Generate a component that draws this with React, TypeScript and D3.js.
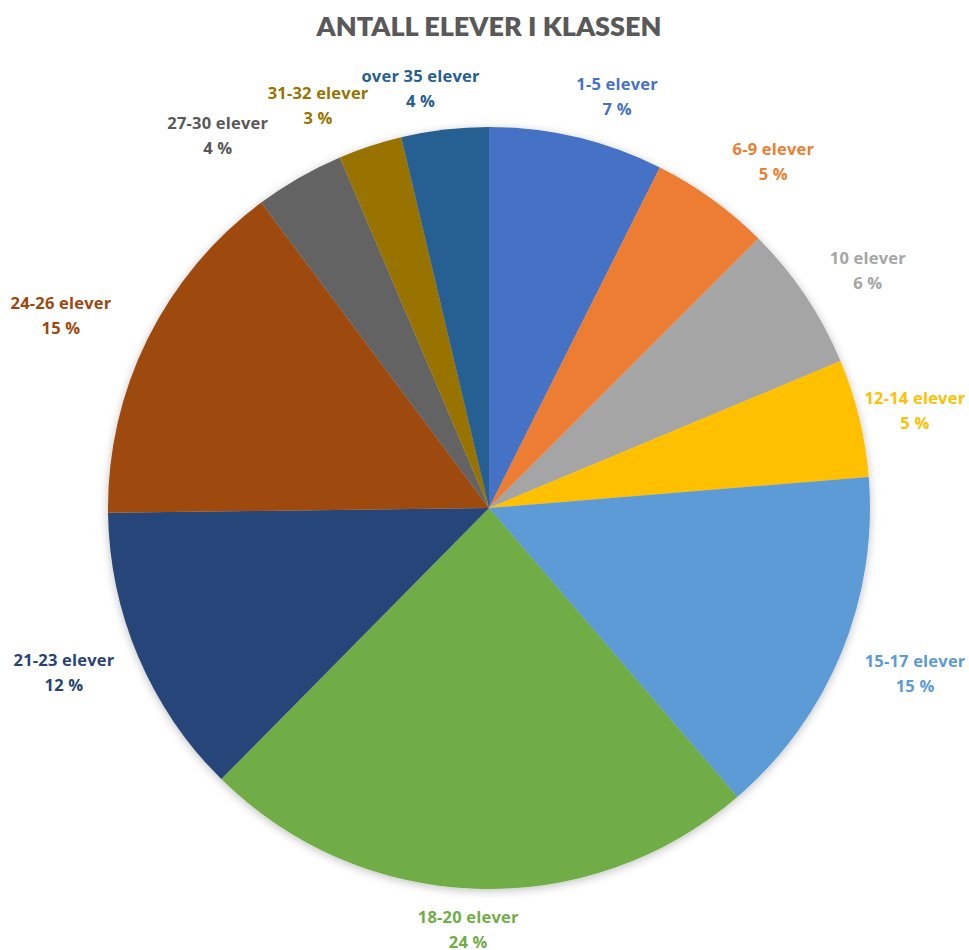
import React from "react";
import * as d3 from "d3";

const categories = [
  "1-5 elever", "6-9 elever", "10 elever", "12-14 elever", "15-17 elever",
  "18-20 elever", "21-23 elever", "24-26 elever", "27-30 elever", "31-32 elever", "over 35 elever",
];
const values = [7.4, 5.1, 6.2, 5.0, 15.0, 23.7, 12.4, 15.0, 3.8, 2.7, 3.7];
const colors = [
  "#4472C4", "#ED7D31", "#A5A5A5", "#FFC000", "#5B9BD5",
  "#70AD47", "#264478", "#9E480E", "#636363", "#997300", "#255E91",
];
const labelColors = [
  "#4472C4", "#ED7D31", "#A5A5A5", "#FFC000", "#5B9BD5",
  "#70AD47", "#264478", "#9E480E", "#595959", "#997300", "#255E91",
];
// per-label nudges (layout)
const nudges: [number, number][] = [
  [30, 3], [35, -2], [25, -1], [12, 3], [32, 3], [-6, -5], [-33, -3], [-46, -4], [-59, -4], [-38, 2], [-19, 3],
];
const title = "ANTALL ELEVER I KLASSEN";

export default function App() {
  const W = 969, H = 950;
  const cx = 489, cy = 508, R = 381;
  const total = d3.sum(values);
  const pie = d3.pie<number>().sort(null).value((d) => d);
  const arcs = pie(values);
  const arc = d3.arc<d3.PieArcDatum<number>>().innerRadius(0).outerRadius(R);
  return (
    <svg width={W} height={H} style={{ position: "absolute", left: 0, top: 0 }}>
      <defs>
        <filter id="sh" x="-10%" y="-10%" width="120%" height="120%">
          <feGaussianBlur in="SourceAlpha" stdDeviation="5" />
          <feOffset dx="0" dy="2" result="b" />
          <feComponentTransfer><feFuncA type="linear" slope="0.25" /></feComponentTransfer>
          <feMerge><feMergeNode /><feMergeNode in="SourceGraphic" /></feMerge>
        </filter>
      </defs>
      <rect width={W} height={H} fill="#fff" />
      <text x={cx} y={36} textAnchor="middle" fontSize={27} fontWeight={800} fill="#595959"
        fontFamily="Lato, 'Open Sans', sans-serif">{title}</text>
      <g transform={`translate(${cx},${cy})`} filter="url(#sh)">
        {arcs.map((a, i) => (
          <path key={i} d={arc(a) || ""} fill={colors[i]} />
        ))}
      </g>
      {arcs.map((a, i) => {
        const mid = (a.startAngle + a.endAngle) / 2;
        const rr = R + 45;
        const x = cx + rr * Math.sin(mid) + nudges[i][0];
        const y = cy - rr * Math.cos(mid) + nudges[i][1];
        const pct = Math.round((values[i] / total) * 100);
        return (
          <text key={i} textAnchor="middle" fontSize={16.5} fontWeight={700} fill={labelColors[i]}
            fontFamily="'Open Sans', Lato, sans-serif" letterSpacing={0.2}>
            <tspan x={x} y={y - 6}>{categories[i]}</tspan>
            <tspan x={x} y={y + 19}>{`${pct} %`}</tspan>
          </text>
        );
      })}
    </svg>
  );
}
